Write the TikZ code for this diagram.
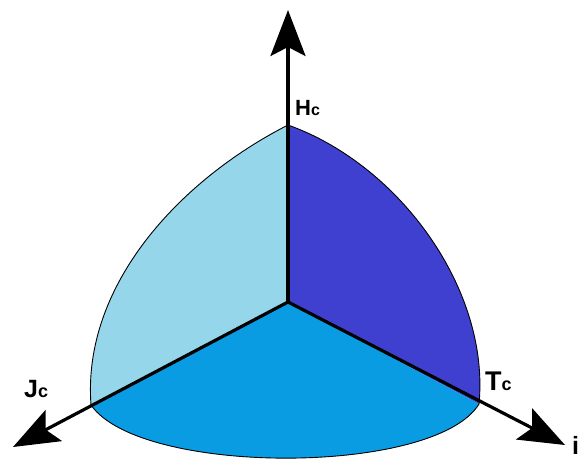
\documentclass[tikz,border=0pt]{standalone}
\usepackage{fontspec}
\setmainfont{Liberation Sans}
\usetikzlibrary{arrows.meta}
\definecolor{lightface}{RGB}{150,214,234}
\definecolor{darkface}{RGB}{64,64,208}
\definecolor{midface}{RGB}{10,156,226}
\begin{document}
\begin{tikzpicture}[x=1pt,y=-1pt,
  rim/.style={draw=black, line width=0.9pt},
  axis/.style={line width=3.2pt, line cap=round, -{Stealth[length=46pt,width=35pt,inset=9pt]}},
  lbl/.style={font=\fontsize{22}{22}\selectfont\bfseries, inner sep=0pt, anchor=base west},
  sml/.style={font=\fontsize{16}{16}\selectfont\bfseries, inner sep=0pt, anchor=base west}]
\useasboundingbox (0,0) rectangle (578,459);
\coordinate (O) at (288,302);
\coordinate (H) at (288,125);
\coordinate (J) at (91,405);
\coordinate (T) at (479,404);
\coordinate (Htip) at (288,10);
\coordinate (Jtip) at (13,447);
\coordinate (Ttip) at (565,445);
% faces
\fill[lightface] (O) -- (H) .. controls (180,180) and (82,285) .. (J) -- cycle;
\fill[darkface] (O) -- (H) .. controls (400,165) and (490,290) .. (T) -- cycle;
\fill[midface] (O) -- (J) .. controls (140,476) and (435,476) .. (T) -- cycle;
% rims
\draw[rim] (H) .. controls (180,180) and (82,285) .. (J);
\draw[rim] (H) .. controls (400,165) and (490,290) .. (T);
\draw[rim] (J) .. controls (140,476) and (435,476) .. (T);
% axes
\draw[axis] (O) -- (Htip);
\draw[axis] (O) -- (Jtip);
\draw[axis] (O) -- (Ttip);
% labels
\node[lbl] (lH) at (295,115) {H{\fontsize{16}{16}\selectfont c}};
\node[lbl, font=\fontsize{25}{25}\selectfont\bfseries] (lJ) at (24,397) {J{\fontsize{18}{18}\selectfont c}};
\node[lbl, font=\fontsize{27}{27}\selectfont\bfseries] (lT) at (485,390) {T{\fontsize{18}{18}\selectfont c}};
\node[lbl, font=\fontsize{25}{25}\selectfont\bfseries] (li) at (572,454) {i};
\end{tikzpicture}
\end{document}
